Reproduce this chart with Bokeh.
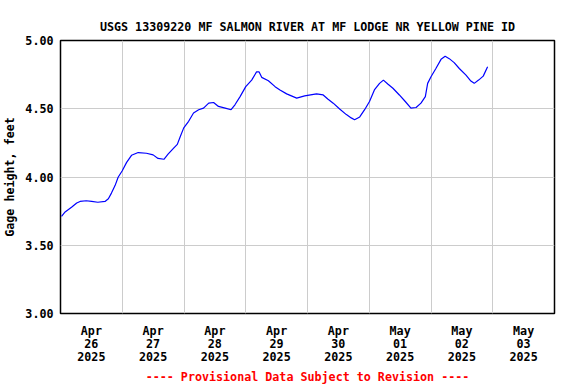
from bokeh.plotting import figure
from bokeh.models import Range1d, FixedTicker, Title
from bokeh.embed import file_html
from bokeh.resources import INLINE

# ---- data ----
title_text = "USGS 13309220 MF SALMON RIVER AT MF LODGE NR YELLOW PINE ID"
y_axis_title = "Gage height, feet"
note_text = "---- Provisional Data Subject to Revision ----"

# hours since 2025-04-26 00:00 (local)
hours = [0.4, 1.8, 4.4, 6.3, 7.6, 10.0, 12.1, 14.5, 17.3, 18.6, 19.8, 21.2, 22.4,
         24.0, 25.7, 27.6, 30.2, 33.4, 36.0, 37.9, 40.2, 41.8, 43.8, 45.4, 46.6,
         47.9, 49.8, 51.7, 53.7, 55.6, 57.6, 59.5, 61.4, 64.0, 66.3, 67.8, 69.8,
         72.0, 74.3, 76.2, 77.2, 78.2, 80.8, 83.4, 85.3, 87.9, 91.8, 94.9, 99.5,
         102.1, 104.0, 106.0, 108.5, 111.1, 113.0, 114.3, 116.3, 118.2, 120.1,
         122.0, 124.0, 125.5, 127.2, 129.2, 131.7, 134.0, 136.2, 138.2, 140.1,
         141.8, 142.7, 144.0, 145.9, 147.9, 149.5, 151.1, 153.0, 155.0, 157.6,
         159.5, 160.8, 162.5, 164.3, 166.0]
gage_ft = [3.712, 3.744, 3.780, 3.809, 3.821, 3.826, 3.821, 3.815, 3.821, 3.841,
           3.882, 3.937, 3.998, 4.046, 4.107, 4.159, 4.179, 4.174, 4.162, 4.136,
           4.130, 4.167, 4.208, 4.239, 4.299, 4.360, 4.408, 4.469, 4.493, 4.505,
           4.541, 4.546, 4.517, 4.505, 4.493, 4.529, 4.589, 4.662, 4.710, 4.770,
           4.770, 4.730, 4.705, 4.662, 4.638, 4.609, 4.578, 4.594, 4.609, 4.601,
           4.570, 4.541, 4.498, 4.457, 4.433, 4.420, 4.440, 4.493, 4.553, 4.638,
           4.686, 4.710, 4.681, 4.650, 4.601, 4.553, 4.505, 4.509, 4.541, 4.589,
           4.686, 4.734, 4.795, 4.862, 4.884, 4.867, 4.838, 4.795, 4.746, 4.703,
           4.686, 4.710, 4.739, 4.807]

x_label_hours = [12, 36, 60, 84, 108, 132, 156, 180]
x_tick_labels = ["Apr\n26\n2025", "Apr\n27\n2025", "Apr\n28\n2025", "Apr\n29\n2025",
                 "Apr\n30\n2025", "May\n01\n2025", "May\n02\n2025", "May\n03\n2025"]
x_grid_hours = [0, 24, 48, 72, 96, 120, 144, 168, 192]
y_ticks = [3.0, 3.5, 4.0, 4.5, 5.0]
y_tick_labels = ["3.00", "3.50", "4.00", "4.50", "5.00"]

FONT = "DejaVu Sans Mono"
FS = "11.7px"

p = figure(width=576, height=384, output_backend="svg", toolbar_location=None,
           x_range=Range1d(0, 192), y_range=Range1d(3.0, 5.0),
           min_border_left=58, min_border_right=22, min_border_top=40,
           min_border_bottom=68)

p.line(hours, gage_ft, line_color="#0000ff", line_width=1.2)

p.title.text = title_text
p.title.align = "center"
p.title.text_font = FONT
p.title.text_font_size = FS
p.title.text_font_style = "bold"
p.title.text_color = "black"
p.title.standoff = 13

# x axis
xa = p.xaxis[0]
xa.ticker = FixedTicker(ticks=x_label_hours)
xa.major_label_overrides = {h: lab for h, lab in zip(x_label_hours, x_tick_labels)}
xa.major_tick_out = 0
xa.major_tick_in = 0
xa.minor_tick_out = 0
xa.minor_tick_in = 0
xa.axis_line_color = None
xa.major_label_text_font = FONT
xa.major_label_text_font_size = FS
xa.major_label_text_font_style = "bold"
xa.major_label_text_color = "black"
xa.major_label_text_line_height = 0.93
xa.major_label_standoff = 10

# y axis
ya = p.yaxis[0]
ya.ticker = FixedTicker(ticks=y_ticks)
ya.major_label_overrides = {t: lab for t, lab in zip(y_ticks, y_tick_labels)}
ya.major_tick_out = 0
ya.major_tick_in = 0
ya.minor_tick_out = 0
ya.minor_tick_in = 0
ya.axis_line_color = None
ya.major_label_text_font = FONT
ya.major_label_text_font_size = FS
ya.major_label_text_font_style = "bold"
ya.major_label_text_color = "black"
ya.major_label_standoff = 7
ya.axis_label = y_axis_title
ya.axis_label_text_font = FONT
ya.axis_label_text_font_size = FS
ya.axis_label_text_font_style = "bold"
ya.axis_label_text_color = "black"
ya.axis_label_standoff = 5

# grids
p.xgrid.ticker = FixedTicker(ticks=x_grid_hours)
p.ygrid.ticker = FixedTicker(ticks=y_ticks)
p.xgrid.grid_line_color = "#cccccc"
p.ygrid.grid_line_color = "#cccccc"

p.outline_line_color = "black"
p.outline_line_width = 1.5
p.background_fill_color = "white"
p.border_fill_color = "white"

note = Title(text=note_text, align="center", text_font=FONT, text_font_size=FS,
             text_font_style="bold", text_color="#ff0000", standoff=2)
p.add_layout(note, "below")

open("out.html", "w").write(file_html(p, INLINE))
